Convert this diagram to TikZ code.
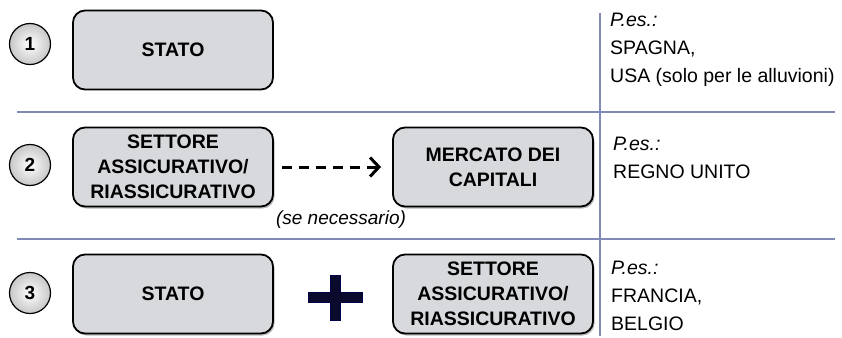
\documentclass[tikz,border=0pt]{standalone}
\usepackage{fontspec}
\setmainfont{Liberation Sans}
\usepackage{tikz}
\usetikzlibrary{arrows.meta,shadows}

\definecolor{boxgray}{RGB}{215,217,221}
\definecolor{rulecol}{RGB}{128,138,182}
\definecolor{plusblue}{RGB}{10,10,45}

\tikzset{
  casebox/.style={draw=black, line width=1.8pt, rounded corners=12pt, fill=boxgray,
    minimum width=200pt, minimum height=79pt, align=center,
    font=\bfseries\fontsize{19.5}{25}\selectfont},
  bevel/.style={drop shadow={shadow xshift=1.5pt, shadow yshift=-2pt, fill=black!55}},
  numball/.style={circle, draw=black, line width=1.2pt, minimum size=41pt, inner sep=0pt,
    inner color=white, outer color=black!22, font=\bfseries\fontsize{19}{19}\selectfont},
  examples/.style={anchor=west, inner sep=0pt, align=left,
    font=\fontsize{19.5}{28}\selectfont},
  rule/.style={draw=rulecol, line width=1.1pt}
}

\begin{document}
\begin{tikzpicture}[x=1pt,y=-1pt]
  \useasboundingbox (0,0) rectangle (842,337);

  % Separators
  \coordinate (hl1) at (17,112);  \coordinate (hr1) at (835,112);
  \coordinate (hl2) at (17,239);  \coordinate (hr2) at (835,239);
  \coordinate (vt) at (600,13);   \coordinate (vb) at (600,336);
  \draw[rule] (hl1) -- (hr1);
  \draw[rule] (hl2) -- (hr2);
  \draw[rule] (vt) -- (vb);

  % Row 1
  \node[numball] (one) at (30,44) {1};
  \node[casebox] (stato1) at (173,50) {STATO};
  \node[examples] (ex1) at (610,50) {\textit{P.es.:}\\SPAGNA,\\USA (solo per le alluvioni)};

  % Row 2
  \node[numball] (two) at (30,165) {2};
  \node[casebox,bevel] (settore2) at (173,167) {SETTORE\\ASSICURATIVO/\\RIASSICURATIVO};
  \node[casebox,bevel] (mercato) at (493,167) {MERCATO DEI\\CAPITALI};
  \draw[line width=3pt, dash pattern=on 10pt off 7pt,
        -{Straight Barb[length=9pt,width=19pt,line width=3pt]},
        shorten <=8pt, shorten >=11pt] (settore2) -- (mercato);
  \node[font=\itshape\fontsize{19}{19}\selectfont] (note) at (341,220) {(se necessario)};
  \node[examples] (ex2) at (613,158) {\textit{P.es.:}\\REGNO UNITO};

  % Row 3
  \node[numball] (three) at (30,293) {3};
  \node[casebox,bevel] (stato3) at (173,294) {STATO};
  \node[casebox,bevel] (settore3) at (493,294) {SETTORE\\ASSICURATIVO/\\RIASSICURATIVO};
  \filldraw[fill=plusblue, draw=blue!30!black, line width=0.8pt]
    (308,292) -- (330,292) -- (330,275) -- (340,275) -- (340,292) -- (362,292)
    -- (362,302) -- (340,302) -- (340,320) -- (330,320) -- (330,302) -- (308,302) -- cycle;
  \node[examples] (ex3) at (611,296) {\textit{P.es.:}\\FRANCIA,\\BELGIO};
\end{tikzpicture}
\end{document}
